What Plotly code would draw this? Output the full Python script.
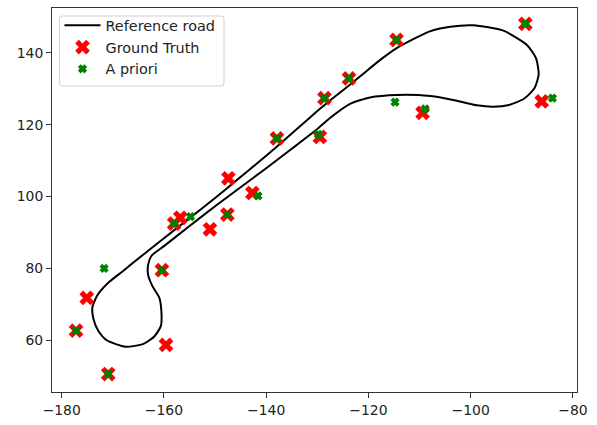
import plotly.graph_objects as go

# Reference road (closed path)
road_x = [-162.4, -160.0, -155.0, -150.0, -145.0, -140.0, -135.0, -130.0, -127.4, -123.6, -119.7,
          -114.4, -107.9, -102.7, -98.8, -95.5, -92.5, -89.5, -87.5, -86.7, -87.2, -89.0, -93.6,
          -99.5, -104.0, -108.0, -114.4, -118.0, -121.0, -124.0, -127.4, -130.0, -134.0, -138.0,
          -142.0, -146.0, -150.0, -155.0, -160.0, -164.0, -168.0, -171.0, -173.0, -174.0, -173.8,
          -172.8, -171.2, -167.5, -164.0, -161.8, -160.6, -160.5, -160.9, -162.3, -163.1, -163.1,
          -162.4]
road_y = [83.6, 86.2, 91.8, 97.3, 102.6, 107.9, 113.3, 118.8, 122.0, 125.8, 127.6,
          128.3, 128.0, 126.7, 125.4, 125.0, 125.5, 127.3, 130.2, 134.0, 138.5, 142.2, 146.2,
          147.7, 147.3, 146.0, 141.4, 137.7, 134.2, 130.7, 126.9, 123.8, 118.8, 113.8,
          109.0, 104.3, 99.6, 94.0, 88.4, 83.9, 79.3, 75.9, 72.6, 69.2, 66.0,
          62.5, 60.0, 58.2, 59.0, 61.2, 64.0, 68.0, 71.8, 75.2, 78.2, 81.0,
          83.6]

# Ground truth points
gt_x = [-177.2, -175.1, -170.9, -160.4, -159.6, -158.0, -156.8, -151.0, -147.6, -147.4, -142.7,
        -137.9, -129.5, -128.6, -123.8, -114.5, -109.4, -89.3, -86.1]
gt_y = [62.7, 71.8, 50.6, 79.5, 58.7, 92.5, 94.1, 90.9, 95.0, 105.1, 101.0,
        116.2, 116.6, 127.4, 132.9, 143.6, 123.3, 148.1, 126.5]

# A priori points
ap_x = [-177.2, -171.7, -170.9, -160.4, -158.0, -154.8, -147.6, -141.6, -137.9, -129.8, -128.6,
        -123.8, -114.5, -114.8, -108.9, -89.3, -84.0]
ap_y = [62.7, 80.0, 50.6, 79.5, 92.5, 94.4, 95.0, 100.2, 116.2, 117.3, 127.4,
        132.9, 143.6, 126.3, 124.4, 148.1, 127.4]

x_ticks = [-180, -160, -140, -120, -100, -80]
x_labels = ["\u2212180", "\u2212160", "\u2212140", "\u2212120", "\u2212100", "\u221280"]
y_ticks = [60, 80, 100, 120, 140]
y_labels = ["60", "80", "100", "120", "140"]

# plot area in pixels
L, R, T, B = 52, 577, 7, 397

def px2paper(px, py):
    return (px - L) / (R - L), (B - py) / (B - T)

fig = go.Figure()
fig.add_trace(go.Scatter(x=road_x, y=road_y, mode="lines", name="Reference road",
                         line=dict(color="black", width=2, shape="spline", smoothing=0.6)))
fig.add_trace(go.Scatter(x=gt_x, y=gt_y, mode="markers", name="Ground Truth",
                         marker=dict(symbol="x", size=13, color="#ff0000")))
fig.add_trace(go.Scatter(x=ap_x, y=ap_y, mode="markers", name="A priori",
                         marker=dict(symbol="x", size=6.5, color="#008000",
                                     line=dict(color="#008000", width=1.3))))

axis_common = dict(showgrid=False, zeroline=False, showline=True, mirror=True,
                   linecolor="#333333", linewidth=1, ticks="outside", ticklen=5,
                   tickcolor="#333333", tickwidth=1,
                   tickfont=dict(family="DejaVu Sans", size=13.9, color="#222222"))

# legend frame (pixel coords relative to plot top-left), rounded corners
x0, y0, x1, y1, r = 59.5 - L, 15 - T, 224 - L, 85 - T, 3
frame = (f"M{x0+r},{-y0} L{x1-r},{-y0} Q{x1},{-y0} {x1},{-y0-r} "
         f"L{x1},{-y1+r} Q{x1},{-y1} {x1-r},{-y1} L{x0+r},{-y1} "
         f"Q{x0},{-y1} {x0},{-y1+r} L{x0},{-y0-r} Q{x0},{-y0} {x0+r},{-y0} Z")

lx, ly = px2paper(59.5, 8.5)

fig.add_shape(type="path", xref="paper", yref="paper",
              xsizemode="pixel", ysizemode="pixel", xanchor=0, yanchor=1,
              path=frame, line=dict(color="#d0d0d0", width=1),
              fillcolor="rgba(255,255,255,0.85)", layer="above")

fig.update_layout(
    width=597, height=425,
    margin=dict(l=L, r=597 - R, t=T, b=425 - B),
    paper_bgcolor="white", plot_bgcolor="white",
    showlegend=True,
    legend=dict(x=lx, y=ly, xanchor="left", yanchor="top",
                bgcolor="rgba(0,0,0,0)", borderwidth=0,
                font=dict(family="DejaVu Sans", size=14.4, color="#222222"),
                tracegroupgap=0, itemwidth=36),
    xaxis=dict(range=[-181.9, -79.2], tickvals=x_ticks, ticktext=x_labels, **axis_common),
    yaxis=dict(range=[45.6, 152.5], tickvals=y_ticks, ticktext=y_labels, **axis_common),
)

fig.write_html("out.html")
